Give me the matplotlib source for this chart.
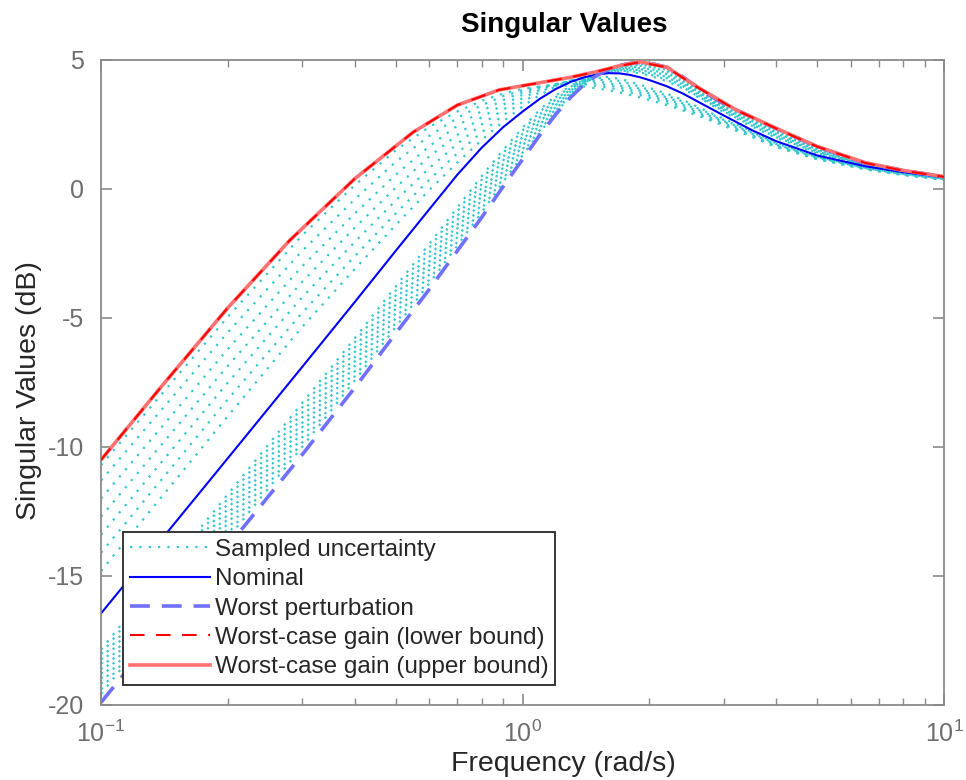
import matplotlib
matplotlib.use("Agg")
import matplotlib.pyplot as plt
from matplotlib.ticker import LogLocator, NullFormatter

plt.rcParams['font.family'] = ['Liberation Sans', 'DejaVu Sans']
plt.rcParams['axes.unicode_minus'] = False

# coarse grid of the worst-case gain bounds (rad/s)
freq_wc = [0.1, 0.14, 0.2, 0.28, 0.4, 0.55, 0.7, 0.88, 1.1, 1.3, 1.5,
           1.7, 1.9, 2.2, 2.6, 3.2, 4.0, 5.0, 6.5, 8.0, 10]
upper_bound = [-10.5, -7.6, -4.6, -2.0, 0.4, 2.2, 3.25, 3.84, 4.12, 4.33, 4.55,
               4.78, 4.93, 4.72, 3.95, 3.08, 2.35, 1.65, 1.02, 0.72, 0.48]
lower_bound = [-10.5, -7.6, -4.6, -2.0, 0.4, 2.2, 3.25, 3.84, 4.12, 4.33, 4.55,
               4.77, 4.92, 4.71, 3.94, 3.07, 2.34, 1.64, 1.01, 0.71, 0.47]

# finer grid for the nominal / perturbed responses (rad/s)
freq = [0.1, 0.2, 0.3, 0.4, 0.5, 0.6, 0.7, 0.8, 0.9, 1.0, 1.1, 1.2, 1.3, 1.4, 1.5,
        1.6, 1.7, 1.8, 1.9, 2.0, 2.2, 2.4, 2.7, 3.0, 3.5, 4.0, 5.0, 6.5, 8.0, 10]
nominal = [-16.45, -10.43, -6.9, -4.38, -2.4, -0.8, 0.55, 1.6, 2.4, 3.0, 3.5, 3.88,
           4.15, 4.33, 4.44, 4.49, 4.48, 4.42, 4.33, 4.22, 3.98, 3.7, 3.25, 2.85,
           2.28, 1.85, 1.3, 0.88, 0.65, 0.45]
worst_pert = [-19.9, -13.85, -10.3, -7.7, -5.6, -3.9, -2.4, -1.1, 0.1, 1.15, 2.1, 2.9,
              3.55, 4.05, 4.4, 4.64, 4.79, 4.87, 4.9, 4.88, 4.72, 4.35, 3.75, 3.3,
              2.78, 2.34, 1.63, 1.0, 0.72, 0.47]

samples = [
    [-10.7, -4.95, -1.8, 0.15, 1.5, 2.4, 3.0, 3.42, 3.7, 3.88, 3.97, 4.01, 4.01, 3.97,
     3.9, 3.83, 3.74, 3.64, 3.55, 3.45, 3.25, 3.05, 2.75, 2.45, 2.02, 1.62, 1.15,
     0.76, 0.54, 0.35],
    [-11.3, -5.55, -2.4, -0.4, 1.05, 2.05, 2.75, 3.25, 3.6, 3.83, 3.97, 4.05, 4.08,
     4.06, 4.0, 3.93, 3.84, 3.74, 3.64, 3.54, 3.33, 3.12, 2.8, 2.5, 2.06, 1.65, 1.17,
     0.77, 0.55, 0.36],
    [-12.0, -6.2, -3.0, -0.95, 0.55, 1.65, 2.45, 3.02, 3.45, 3.75, 3.95, 4.07, 4.13,
     4.13, 4.09, 4.02, 3.93, 3.83, 3.73, 3.62, 3.41, 3.19, 2.86, 2.55, 2.1, 1.68,
     1.19, 0.78, 0.56, 0.37],
    [-12.7, -6.85, -3.6, -1.5, 0.05, 1.25, 2.1, 2.78, 3.27, 3.65, 3.9, 4.07, 4.17,
     4.2, 4.17, 4.1, 4.01, 3.91, 3.81, 3.7, 3.48, 3.26, 2.92, 2.6, 2.14, 1.71, 1.21,
     0.8, 0.57, 0.38],
    [-13.4, -7.5, -4.2, -2.05, -0.45, 0.8, 1.75, 2.5, 3.08, 3.52, 3.84, 4.06, 4.2,
     4.26, 4.25, 4.19, 4.1, 3.99, 3.88, 3.77, 3.55, 3.32, 2.97, 2.64, 2.18, 1.74,
     1.23, 0.81, 0.58, 0.39],
    [-14.1, -8.15, -4.8, -2.6, -0.95, 0.35, 1.38, 2.2, 2.86, 3.37, 3.76, 4.03, 4.21,
     4.3, 4.31, 4.27, 4.19, 4.08, 3.96, 3.84, 3.62, 3.38, 3.02, 2.68, 2.21, 1.77,
     1.25, 0.82, 0.59, 0.4],
    [-14.8, -8.8, -5.35, -3.1, -1.4, -0.05, 1.02, 1.9, 2.62, 3.2, 3.65, 3.98, 4.2,
     4.33, 4.37, 4.34, 4.27, 4.16, 4.04, 3.92, 3.69, 3.45, 3.06, 2.72, 2.24, 1.8,
     1.27, 0.84, 0.6, 0.41],
    [-17.85, -11.83, -8.3, -5.78, -3.78, -2.14, -0.72, 0.5, 1.52, 2.38, 3.08, 3.62,
     4.0, 4.27, 4.44, 4.53, 4.56, 4.54, 4.48, 4.4, 4.18, 3.9, 3.42, 2.98, 2.42, 1.98,
     1.38, 0.91, 0.67, 0.45],
    [-18.02, -12.0, -8.47, -5.94, -3.94, -2.29, -0.87, 0.36, 1.4, 2.27, 2.99, 3.56,
     3.96, 4.25, 4.44, 4.54, 4.58, 4.57, 4.52, 4.44, 4.23, 3.94, 3.45, 3.01, 2.45,
     2.01, 1.4, 0.92, 0.67, 0.45],
    [-18.23, -12.2, -8.67, -6.14, -4.13, -2.48, -1.05, 0.19, 1.25, 2.14, 2.89, 3.48,
     3.91, 4.23, 4.43, 4.55, 4.6, 4.6, 4.56, 4.5, 4.29, 3.99, 3.48, 3.04, 2.49, 2.05,
     1.43, 0.93, 0.68, 0.45],
    [-18.41, -12.39, -8.86, -6.32, -4.3, -2.65, -1.21, 0.04, 1.11, 2.02, 2.79, 3.41,
     3.87, 4.2, 4.43, 4.56, 4.63, 4.64, 4.6, 4.54, 4.34, 4.03, 3.51, 3.07, 2.53,
     2.09, 1.45, 0.94, 0.68, 0.45],
    [-18.62, -12.6, -9.07, -6.52, -4.49, -2.83, -1.39, -0.13, 0.96, 1.89, 2.68, 3.33,
     3.82, 4.18, 4.42, 4.57, 4.65, 4.67, 4.65, 4.59, 4.4, 4.08, 3.55, 3.1, 2.56,
     2.12, 1.48, 0.95, 0.69, 0.45],
    [-18.79, -12.77, -9.24, -6.68, -4.64, -2.98, -1.53, -0.27, 0.84, 1.79, 2.6, 3.26,
     3.78, 4.16, 4.42, 4.58, 4.67, 4.7, 4.68, 4.64, 4.45, 4.12, 3.57, 3.12, 2.6,
     2.16, 1.5, 0.95, 0.69, 0.46],
    [-18.98, -12.95, -9.42, -6.86, -4.82, -3.15, -1.7, -0.42, 0.7, 1.67, 2.5, 3.19,
     3.74, 4.14, 4.41, 4.59, 4.69, 4.73, 4.72, 4.68, 4.5, 4.16, 3.61, 3.15, 2.63,
     2.19, 1.53, 0.96, 0.7, 0.46],
    [-19.18, -13.16, -9.63, -7.06, -5.01, -3.33, -1.87, -0.59, 0.55, 1.54, 2.39, 3.11,
     3.69, 4.11, 4.41, 4.6, 4.72, 4.77, 4.77, 4.74, 4.56, 4.21, 3.64, 3.18, 2.67,
     2.23, 1.55, 0.97, 0.7, 0.46],
    [-19.39, -13.36, -9.83, -7.26, -5.19, -3.52, -2.05, -0.76, 0.4, 1.41, 2.29, 3.04,
     3.64, 4.09, 4.4, 4.61, 4.74, 4.8, 4.81, 4.79, 4.62, 4.26, 3.67, 3.21, 2.71,
     2.27, 1.58, 0.98, 0.71, 0.46],
    [-19.56, -13.53, -10.0, -7.42, -5.35, -3.67, -2.2, -0.9, 0.28, 1.3, 2.2, 2.97,
     3.6, 4.07, 4.4, 4.62, 4.76, 4.83, 4.85, 4.83, 4.67, 4.3, 3.7, 3.24, 2.74, 2.3,
     1.6, 0.99, 0.71, 0.46],
]

fig = plt.figure(figsize=(9.66, 7.8), dpi=100)
ax = fig.add_axes([0.1046, 0.0962, 0.8727, 0.8269])

cyan = (0.2, 0.78, 0.8)
for i, s in enumerate(samples):
    ax.plot(freq, s, color=cyan, lw=1.6, linestyle=(0, (1, 3.2)),
            label="Sampled uncertainty" if i == 0 else None)
ax.plot(freq, nominal, color="#0000ff", lw=1.5, label="Nominal")
ax.plot(freq, worst_pert, color="#7070ff", lw=2.6, linestyle=(0, (5.5, 3.3)),
        label="Worst perturbation")
ax.plot(freq_wc, upper_bound, color="#ff7070", lw=2.6, zorder=4,
        label="Worst-case gain (upper bound)")
ax.plot(freq_wc, lower_bound, color="#ff0000", lw=1.5, linestyle=(0, (7, 5.5)), zorder=5,
        label="Worst-case gain (lower bound)")

ax.set_xscale("log")
ax.set_xlim(0.1, 10)
ax.set_ylim(-20, 5)
ax.set_yticks([-20, -15, -10, -5, 0, 5])
ax.xaxis.set_minor_locator(LogLocator(base=10, subs=range(2, 10)))
ax.xaxis.set_minor_formatter(NullFormatter())

for sp in ax.spines.values():
    sp.set_color("#8a8a8a")
    sp.set_linewidth(1.3)
ax.tick_params(which="both", direction="in", top=True, right=True,
               colors="#8a8a8a", labelcolor="#6e6e6e", labelsize=18)
ax.tick_params(which="major", length=8, width=1.2)
ax.tick_params(which="minor", length=5, width=1.0)
ax.tick_params(axis="x", which="major", pad=11)
ax.tick_params(axis="y", which="major", pad=12)

ax.set_title("Singular Values", fontsize=20, fontweight="bold", pad=20, x=0.549)
ax.set_xlabel("Frequency (rad/s)", fontsize=20.5, color="#262626")
ax.xaxis.set_label_coords(0.549, -0.072)
ax.xaxis.label.set_verticalalignment("top")
ax.set_ylabel("Singular Values (dB)", fontsize=20.5, color="#262626")
ax.yaxis.set_label_coords(-0.07, 0.487)

h, l = ax.get_legend_handles_labels()
order = [0, 1, 2, 4, 3]
leg = ax.legend([h[i] for i in order], [l[i] for i in order],
                loc="lower left", bbox_to_anchor=(0.026, 0.031), borderaxespad=0,
                fontsize=17.5, frameon=True, fancybox=False, framealpha=1,
                edgecolor="#262626", handlelength=3.3, handletextpad=0.2,
                labelspacing=0.3, borderpad=0.28)
leg.get_frame().set_linewidth(1.3)
for t in leg.get_texts():
    t.set_color("#262626")

fig.savefig("out.png", dpi=100)
